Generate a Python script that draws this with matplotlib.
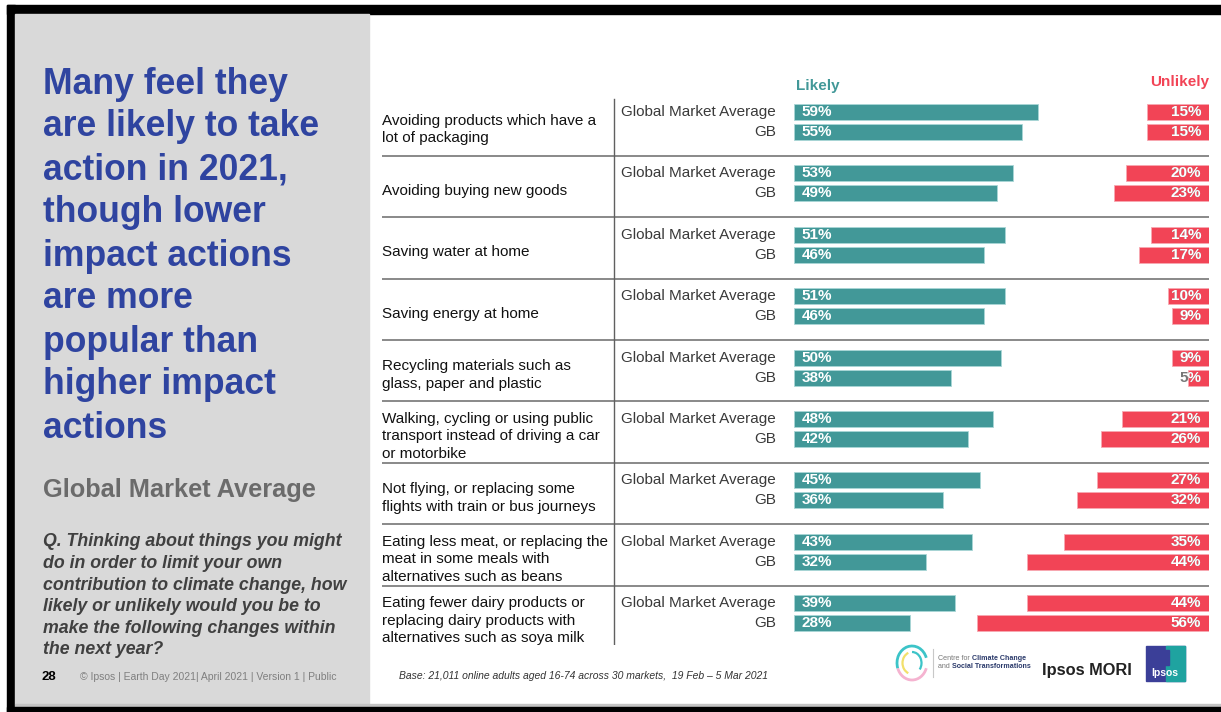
import numpy as np
import matplotlib.pyplot as plt
from matplotlib.patches import Rectangle, Arc

plt.rcParams['font.family'] = ['Liberation Sans', 'DejaVu Sans']

W, H = 1221, 712

categories = [
    'Avoiding products which have a\nlot of packaging',
    'Avoiding buying new goods',
    'Saving water at home',
    'Saving energy at home',
    'Recycling materials such as\nglass, paper and plastic',
    'Walking, cycling or using public\ntransport instead of driving a car\nor motorbike',
    'Not flying, or replacing some\nflights with train or bus journeys',
    'Eating less meat, or replacing the\nmeat in some meals with\nalternatives such as beans',
    'Eating fewer dairy products or\nreplacing dairy products with\nalternatives such as soya milk',
]
series = ['Global Market Average', 'GB']
likely_global = [59, 53, 51, 51, 50, 48, 45, 43, 39]
likely_gb = [55, 49, 46, 46, 38, 42, 36, 32, 28]
unlikely_global = [15, 20, 14, 10, 9, 21, 27, 35, 44]
unlikely_gb = [15, 23, 17, 9, 5, 26, 32, 44, 56]

title_lines = ['Many feel they', 'are likely to take', 'action in 2021,',
               'though lower', 'impact actions', 'are more',
               'popular than', 'higher impact', 'actions']
question_lines = ['Q. Thinking about things you might',
                  'do in order to limit your own',
                  'contribution to climate change, how',
                  'likely or unlikely would you be to',
                  'make the following changes within',
                  'the next year?']

TEAL = '#429898'
RED = '#F24456'
BLUE = '#2F44A0'

fig = plt.figure(figsize=(W / 100, H / 100), dpi=100)

# slide background, drawn in pixel units
bg = fig.add_axes([0, 0, 1, 1])
bg.set_xlim(0, W)
bg.set_ylim(H, 0)
bg.axis('off')
bg.add_patch(Rectangle((7, 5), W - 7, 9, color='black'))
bg.add_patch(Rectangle((7, 5), 8, H - 5, color='black'))
bg.add_patch(Rectangle((15, 14), 354, 690, color='#D9D9D9'))
bg.add_patch(Rectangle((15, 704), W - 15, 3, color='#C4C4C4'))
bg.add_patch(Rectangle((7, 707), W - 7, 5, color='black'))

for k, line in enumerate(title_lines):
    bg.text(43, 84 + 43 * k, line, color=BLUE, fontsize=25.6, fontweight='bold',
            va='center', ha='left')
bg.text(43, 490, 'Global Market Average', color='#6B6B6B', fontsize=18.3,
        fontweight='bold', va='center')
for k, line in enumerate(question_lines):
    bg.text(43, 542 + 21.6 * k, line, color='#404040', fontsize=12.8,
            fontweight='bold', fontstyle='italic', va='center')
bg.text(42, 677, '28', fontsize=9.5, fontweight='heavy', color='black', va='center')
bg.text(80, 677, '© Ipsos | Earth Day 2021| April 2021 | Version 1 | Public',
        fontsize=7.5, color='#7F7F7F', va='center')
bg.text(399, 676, 'Base: 21,011 online adults aged 16-74 across 30 markets,  19 Feb – 5 Mar 2021',
        fontsize=7.45, fontstyle='italic', color='#333333', va='center')

# partner logos in the footer
bg.add_patch(Arc((912, 663), 30, 34, theta1=20, theta2=160, color='#F5B3D0', lw=2))
bg.add_patch(Arc((912, 663), 30, 34, theta1=160, theta2=340, color='#3CC4C8', lw=2))
bg.add_patch(Arc((912, 663), 19, 22, theta1=110, theta2=250, color='#F2E06B', lw=1.6))
bg.add_patch(Arc((912, 663), 19, 22, theta1=270, theta2=400, color='#3CC4C8', lw=1.6))
bg.plot([933, 933], [649, 677], color='#C8C8C8', lw=0.8)
t1 = bg.text(938, 659, 'Centre for ', fontsize=5.1, color='#777777', va='center')
bg.annotate('Climate Change', xy=(1, 0.5), xycoords=t1, fontsize=5.1,
            color='#2B3A6B', fontweight='bold', va='center')
t2 = bg.text(938, 667, 'and ', fontsize=5.1, color='#777777', va='center')
bg.annotate('Social Transformations', xy=(1, 0.5), xycoords=t2, fontsize=5.1,
            color='#2B3A6B', fontweight='bold', va='center')
bg.text(1042, 670, 'Ipsos MORI', fontsize=11.8, fontweight='bold', color='#222222',
        va='center', ha='left')
bg.add_patch(Rectangle((1146, 646), 39, 35, color='#3B3F98'))
bg.add_patch(Rectangle((1166, 646), 19, 35, color='#1FA3A0'))
bg.add_patch(Rectangle((1161, 650), 8, 15, color='#3B3F98'))
bg.text(1164.5, 673, 'Ipsos', fontsize=7.5, fontweight='bold', color='white',
        ha='center', va='center')

# chart area: x in percentage points, y in question groups
PX = 4.14
X0 = 794
G0, GP = 122, 61.4
top, bottom = 97, 645
left_px, right_px = 382, 1209
ax = fig.add_axes([left_px / W, 1 - bottom / H, (right_px - left_px) / W, (bottom - top) / H])
ax.set_facecolor('none')
xmin, xmax = (left_px - X0) / PX, (right_px - X0) / PX
ax.set_xlim(xmin, xmax)
ax.set_ylim((bottom - G0) / GP, (top - G0) / GP)
ax.axis('off')

y = np.arange(len(categories))
off = 0.163
bh = 0.26
likely = [likely_global, likely_gb]
unlikely = [unlikely_global, unlikely_gb]

for s, sign in enumerate([-1, 1]):
    ys = y + sign * off
    lb = ax.barh(ys, likely[s], height=bh, left=0, color=TEAL,
                 edgecolor='#A9D6D6', linewidth=0.6)
    uv = np.array(unlikely[s])
    ub = ax.barh(ys, uv, height=bh, left=xmax - uv, color=RED,
                 edgecolor='#F7A9B2', linewidth=0.6)
    for i in range(len(categories)):
        ax.text(1.9, ys[i], f'{likely[s][i]}%', color='white', fontsize=11,
                fontweight='bold', va='center', ha='left')
        ax.text(xmax - 1.9, ys[i], f'{unlikely[s][i]}%', color='#777777', fontsize=11,
                fontweight='bold', va='center', ha='right')
        wt = ax.text(xmax - 1.9, ys[i], f'{unlikely[s][i]}%', color='white', fontsize=11,
                     fontweight='bold', va='center', ha='right', clip_on=True)
        wt.set_clip_path(ub.patches[i])
        ax.text(-4.35, ys[i], series[s], color='#3A3A3A', fontsize=11,
                va='center', ha='right')

for i, cat in enumerate(categories):
    ax.text(xmin, i + 0.12, cat, fontsize=11, color='#111111', va='center',
            ha='left', linespacing=1.32)

for i in range(len(categories) - 1):
    ax.axhline(i + 0.55, color='#808080', lw=1.3)
ax.axvline((614 - X0) / PX, ymin=0, ymax=0.997, color='#606060', lw=1.0)

ax.text(0.5, (86 - G0) / GP, 'Likely', color=TEAL, fontsize=11, fontweight='bold',
        va='center', ha='left')
ax.text(xmax, (82 - G0) / GP, 'Unlikely', color=RED, fontsize=11, fontweight='bold',
        va='center', ha='right')

fig.savefig('out.png', dpi=100)
